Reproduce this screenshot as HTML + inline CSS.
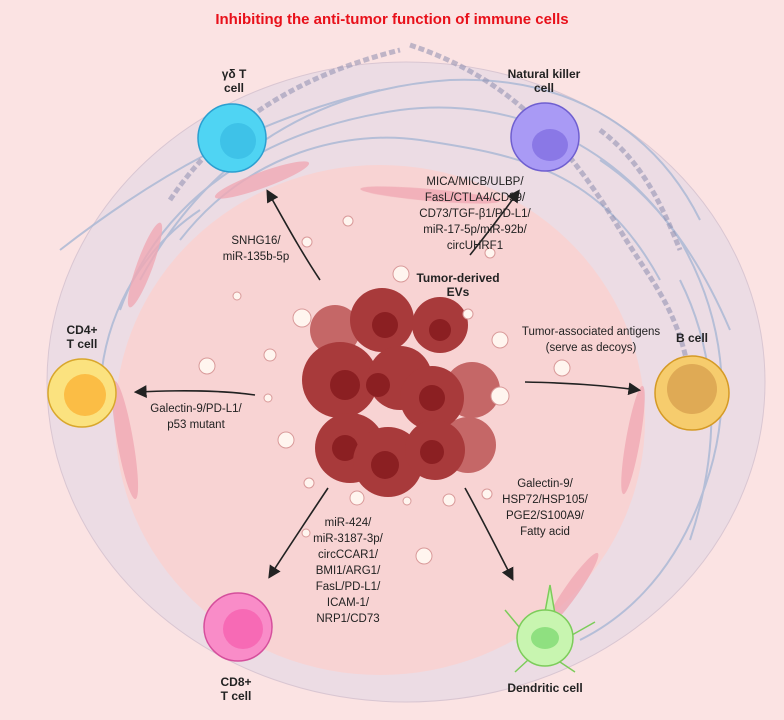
<!DOCTYPE html>
<html><head><meta charset="utf-8"><style>
html,body{margin:0;padding:0;background:#fbe3e3;}
svg{display:block;font-family:"Liberation Sans",sans-serif;}
</style></head><body>
<svg width="784" height="720" viewBox="0 0 784 720" xmlns="http://www.w3.org/2000/svg">
<defs>
<marker id="ah" markerWidth="8" markerHeight="8" refX="6" refY="4" orient="auto"><path d="M0,0 L8,4 L0,8 z" fill="#222"/></marker>
</defs>
<rect width="784" height="720" fill="#fbe3e3"/>
<ellipse cx="406" cy="382" rx="359" ry="320" fill="#ecdce4" stroke="#d9c6d2" stroke-width="1"/>
<ellipse cx="380" cy="420" rx="265" ry="255" fill="#f8d3d3"/>
<!-- fibers -->
<g fill="none" stroke="#a8b7d4" stroke-width="2" opacity="0.8">
<path d="M120,310 C160,200 260,130 400,110 C520,95 620,150 680,240 C720,310 740,400 700,500 C670,580 620,620 580,640"/>
<path d="M140,280 C200,170 300,90 450,80 C580,75 660,140 700,220"/>
<path d="M180,240 C250,150 350,130 420,140 C520,155 600,170 660,280"/>
<path d="M100,400 C100,320 140,250 200,210"/>
<path d="M680,280 C720,360 720,450 690,540"/>
<path d="M60,250 C150,180 250,120 380,90"/>
<path d="M600,160 C660,200 700,260 730,330"/>
</g>
<g fill="none" stroke="#8f8fb0" stroke-width="5" stroke-dasharray="6 3" opacity="0.55">
<path d="M170,200 C230,110 320,70 400,50"/>
<path d="M410,45 C500,75 560,130 620,230 C650,280 680,310 690,380"/>
<path d="M600,130 C640,160 660,200 680,250"/>
</g>
<!-- fibroblasts -->
<g fill="#f0a9b4" opacity="0.8">
<ellipse cx="262" cy="180" rx="50" ry="8" transform="rotate(-20 262 180)"/>
<ellipse cx="145" cy="265" rx="45" ry="8" transform="rotate(-70 145 265)"/>
<ellipse cx="125" cy="440" rx="60" ry="8" transform="rotate(80 125 440)"/>
<ellipse cx="633" cy="440" rx="55" ry="7" transform="rotate(-80 633 440)"/>
<ellipse cx="572" cy="590" rx="45" ry="7" transform="rotate(-55 572 590)"/>
<ellipse cx="430" cy="195" rx="70" ry="6" transform="rotate(5 430 195)"/>
</g>
<text x="392" y="24" text-anchor="middle" font-size="15" font-weight="bold" fill="#e8101a">Inhibiting the anti-tumor function of immune cells</text>
<!-- tumor -->
<g>
<circle cx="335" cy="330" r="25" fill="#c56767"/>
<circle cx="472" cy="390" r="28" fill="#c56767"/>
<circle cx="468" cy="445" r="28" fill="#c56767"/>
<circle cx="382" cy="320" r="32" fill="#a83a3b"/><circle cx="385" cy="325" r="13" fill="#8b1f22"/>
<circle cx="440" cy="325" r="28" fill="#a83a3b"/><circle cx="440" cy="330" r="11" fill="#8b1f22"/>
<circle cx="340" cy="380" r="38" fill="#a83a3b"/><circle cx="345" cy="385" r="15" fill="#8b1f22"/>
<circle cx="400" cy="378" r="32" fill="#a83a3b"/><circle cx="378" cy="385" r="12" fill="#8b1f22"/>
<circle cx="432" cy="398" r="32" fill="#a83a3b"/><circle cx="432" cy="398" r="13" fill="#8b1f22"/>
<circle cx="350" cy="448" r="35" fill="#a83a3b"/><circle cx="345" cy="448" r="13" fill="#8b1f22"/>
<circle cx="388" cy="462" r="35" fill="#a83a3b"/><circle cx="385" cy="465" r="14" fill="#8b1f22"/>
<circle cx="435" cy="450" r="30" fill="#a83a3b"/><circle cx="432" cy="452" r="12" fill="#8b1f22"/>
</g>
<!-- EVs -->
<g fill="#fff5ef" stroke="#d99a9a" stroke-width="1">
<circle cx="401" cy="274" r="8"/><circle cx="302" cy="318" r="9"/><circle cx="500" cy="340" r="8"/><circle cx="500" cy="396" r="9"/>
<circle cx="562" cy="368" r="8"/><circle cx="207" cy="366" r="8"/><circle cx="270" cy="355" r="6"/><circle cx="286" cy="440" r="8"/>
<circle cx="357" cy="498" r="7"/><circle cx="449" cy="500" r="6"/><circle cx="424" cy="556" r="8"/><circle cx="309" cy="483" r="5"/>
<circle cx="348" cy="221" r="5"/><circle cx="307" cy="242" r="5"/><circle cx="237" cy="296" r="4"/><circle cx="490" cy="253" r="5"/>
<circle cx="468" cy="314" r="5"/><circle cx="268" cy="398" r="4"/><circle cx="407" cy="501" r="4"/><circle cx="487" cy="494" r="5"/><circle cx="306" cy="533" r="4"/>
</g>
<!-- cells -->
<circle cx="232" cy="138" r="34" fill="#4fd4f3" stroke="#2b9fd0" stroke-width="1.5"/><circle cx="238" cy="141" r="18" fill="#3ec2e8"/>
<circle cx="545" cy="137" r="34" fill="#a99af5" stroke="#6f5fd0" stroke-width="1.5"/><ellipse cx="550" cy="145" rx="18" ry="16" fill="#8a78e6"/>
<circle cx="82" cy="393" r="34" fill="#fbe27f" stroke="#d9a72c" stroke-width="1.5"/><circle cx="85" cy="395" r="21" fill="#fbbd45"/>
<circle cx="692" cy="393" r="37" fill="#f6cc6d" stroke="#d59a25" stroke-width="1.5"/><circle cx="692" cy="389" r="25" fill="#dfaa55"/>
<circle cx="238" cy="627" r="34" fill="#f98cc8" stroke="#d54f9c" stroke-width="1.5"/><circle cx="243" cy="629" r="20" fill="#f76ab5"/>
<g fill="#c8f5b0" stroke="#7ccc5a" stroke-width="1.5"><path d="M545,612 L550,585 L555,614 M572,635 L595,622 M520,628 L505,610 M528,660 L515,672 M560,662 L575,672"/><circle cx="545" cy="638" r="28"/></g>
<ellipse cx="545" cy="638" rx="14" ry="11" fill="#8fe080"/>
<!-- labels -->
<g font-size="12" font-weight="bold" fill="#222" text-anchor="middle">
<text x="234" y="78">γδ T</text><text x="234" y="92">cell</text>
<text x="544" y="78">Natural killer</text><text x="544" y="92">cell</text>
<text x="82" y="334">CD4+</text><text x="82" y="348">T cell</text>
<text x="692" y="342">B cell</text>
<text x="236" y="686">CD8+</text><text x="236" y="700">T cell</text>
<text x="545" y="692">Dendritic cell</text>
<text x="458" y="282">Tumor-derived</text><text x="458" y="296">EVs</text>
</g>
<g font-size="11.5" fill="#222" text-anchor="middle">
<text x="475" y="185">MICA/MICB/ULBP/</text><text x="475" y="201">FasL/CTLA4/CD39/</text><text x="475" y="217">CD73/TGF-β1/PD-L1/</text><text x="475" y="233">miR-17-5p/miR-92b/</text><text x="475" y="249">circUHRF1</text>
<text x="256" y="244">SNHG16/</text><text x="256" y="260">miR-135b-5p</text>
<text x="196" y="412">Galectin-9/PD-L1/</text><text x="196" y="428">p53 mutant</text>
<text x="591" y="335">Tumor-associated antigens</text><text x="591" y="351">(serve as decoys)</text>
<text x="545" y="487">Galectin-9/</text><text x="545" y="503">HSP72/HSP105/</text><text x="545" y="519">PGE2/S100A9/</text><text x="545" y="535">Fatty acid</text>
<text x="348" y="526">miR-424/</text><text x="348" y="542">miR-3187-3p/</text><text x="348" y="558">circCCAR1/</text><text x="348" y="574">BMI1/ARG1/</text><text x="348" y="590">FasL/PD-L1/</text><text x="348" y="606">ICAM-1/</text><text x="348" y="622">NRP1/CD73</text>
</g>
<!-- arrows -->
<g stroke="#222" stroke-width="1.6" fill="none" marker-end="url(#ah)">
<path d="M320,280 C300,250 285,222 268,192"/>
<path d="M470,255 C490,230 505,210 518,192"/>
<path d="M255,395 C220,390 180,390 137,392"/>
<path d="M525,382 C570,383 600,385 638,390"/>
<path d="M328,488 C310,515 290,545 270,576"/>
<path d="M465,488 C480,515 495,545 512,578"/>
</g>
</svg>
</body></html>
